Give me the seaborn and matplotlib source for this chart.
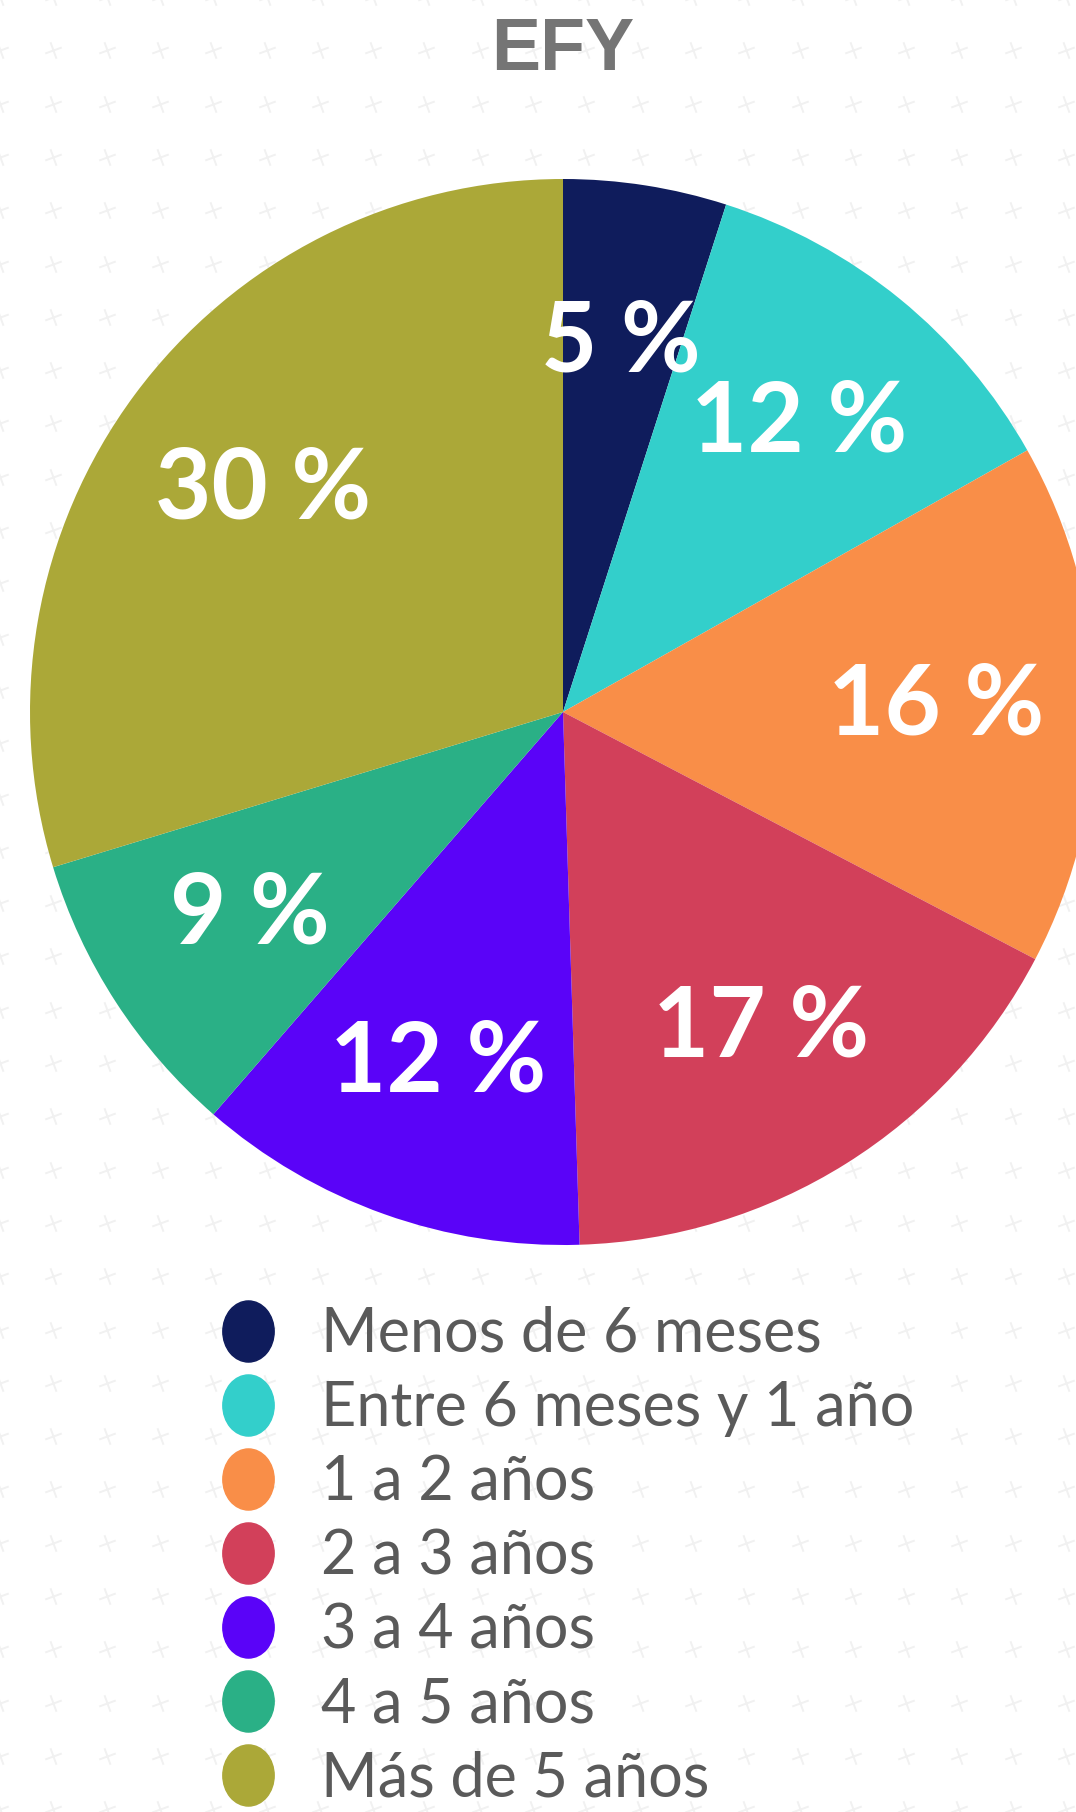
import numpy as np
import matplotlib
matplotlib.use("Agg")
import matplotlib.pyplot as plt
import seaborn as sns
from matplotlib.lines import Line2D
from matplotlib.markers import MarkerStyle
from matplotlib.path import Path
from matplotlib.transforms import Affine2D

# data
labels = ["Menos de 6 meses", "Entre 6 meses y 1 año", "1 a 2 años", "2 a 3 años",
          "3 a 4 años", "4 a 5 años", "Más de 5 años"]
values = [5, 12, 16, 17, 12, 9, 30]
colors = ["#0f1c5c", "#33cfcb", "#f98e48", "#d2405a", "#5a03f8", "#2ab086", "#aba838"]
title = "EFY"

sns.set_theme(style="white")
plt.rcParams["font.family"] = ["Lato", "DejaVu Sans"]

W, H, DPI = 1076, 1812, 100
fig = plt.figure(figsize=(W / DPI, H / DPI), dpi=DPI)
fig.patch.set_facecolor("white")

# faint background cross pattern
bg = fig.add_axes([0, 0, 1, 1], zorder=-5)
bg.set_xlim(0, W); bg.set_ylim(H, 0); bg.axis("off")
gx, gy = np.meshgrid(np.arange(0, W + 60, 53.3), np.arange(-3, H + 60, 53.3))
cross = MarkerStyle("+", transform=Affine2D().rotate_deg(20))
bg.scatter(gx.ravel(), gy.ravel(), marker=cross, s=160, c="#f1f1f1", linewidths=1.4)

# pie
cx, cy, r = 563, 712, 533
ax = fig.add_axes([(cx - r) / W, (H - cy - r) / H, 2 * r / W, 2 * r / H])
wedges, texts, autotexts = ax.pie(
    values, colors=colors, startangle=90, counterclock=False,
    autopct=lambda p: f"{p * sum(values) / 100:.0f} %", pctdistance=0.7,
    wedgeprops=dict(linewidth=0),
    textprops=dict(color="white", fontsize=70, fontweight="bold"))
ax.set_xlim(-1, 1); ax.set_ylim(-1, 1)
ax.set_aspect("equal")

fig.text(cx / W, 1 - 50 / H, title, ha="center", va="center",
         fontsize=53, fontweight="bold", color="#757575", family="Liberation Sans")

# legend with oval markers
oval = Path.unit_circle().transformed(Affine2D().scale(0.84, 1))
handles = [Line2D([], [], marker=oval, markersize=44, linestyle="none",
                  markerfacecolor=c, markeredgecolor=c) for c in colors]
leg = fig.legend(handles, labels, loc="upper left",
                 bbox_to_anchor=(217 / W, 1 - 1306 / H),
                 frameon=False, handlelength=1.0, handletextpad=0.7,
                 labelspacing=0.28, borderpad=0, borderaxespad=0,
                 prop=dict(family=["Lato", "DejaVu Sans"], weight="normal", size=44))
for t in leg.get_texts():
    t.set_color("#5a5a5a")

fig.savefig("out.png", dpi=DPI, facecolor="white")
